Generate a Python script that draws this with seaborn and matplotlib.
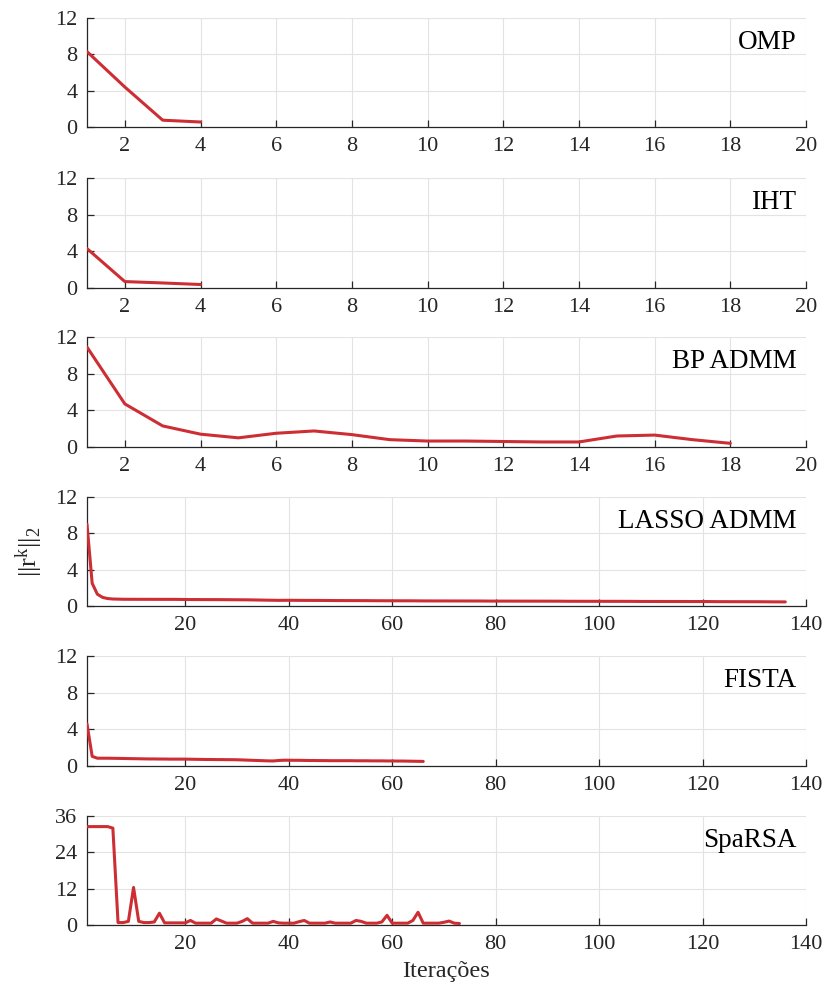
import numpy as np
import pandas as pd
import seaborn as sns
import matplotlib
matplotlib.use("Agg")
import matplotlib.pyplot as plt

# ---------------- data ----------------
omp = [8.3, 4.4, 0.75, 0.55]
iht = [4.3, 0.7, 0.55, 0.38]
bp_admm = [10.9, 4.7, 2.3, 1.4, 1.0, 1.5, 1.75, 1.35, 0.8, 0.65,
           0.65, 0.6, 0.55, 0.55, 1.2, 1.3, 0.8, 0.4]
lasso_admm = [9.0, 2.5, 1.3, 0.95, 0.82, 0.77, 0.75, 0.74, 0.74, 0.74,
              0.74, 0.75, 0.75, 0.75, 0.74, 0.74, 0.73, 0.73, 0.72, 0.72,
              0.71, 0.71, 0.71, 0.70, 0.70, 0.70, 0.70, 0.69, 0.69, 0.69,
              0.68, 0.68, 0.67, 0.66, 0.65, 0.64, 0.62, 0.62, 0.63, 0.63,
              0.62, 0.62, 0.62, 0.61, 0.61, 0.61, 0.61, 0.60, 0.60, 0.60,
              0.60, 0.59, 0.59, 0.59, 0.59, 0.58, 0.58, 0.58, 0.58, 0.57,
              0.57, 0.57, 0.57, 0.57, 0.56, 0.56, 0.56, 0.56, 0.56, 0.56,
              0.55, 0.55, 0.55, 0.55, 0.55, 0.55, 0.55, 0.54, 0.54, 0.54,
              0.54, 0.54, 0.54, 0.54, 0.54, 0.53, 0.53, 0.53, 0.53, 0.53,
              0.53, 0.53, 0.52, 0.52, 0.52, 0.52, 0.52, 0.52, 0.52, 0.51,
              0.51, 0.51, 0.51, 0.51, 0.51, 0.51, 0.50, 0.50, 0.50, 0.50,
              0.50, 0.50, 0.50, 0.50, 0.49, 0.49, 0.49, 0.49, 0.49, 0.49,
              0.49, 0.48, 0.48, 0.48, 0.48, 0.48, 0.47, 0.47, 0.47, 0.47,
              0.47, 0.46, 0.46, 0.46, 0.45, 0.45]
fista = [4.6, 1.05, 0.85, 0.85, 0.85, 0.84, 0.83, 0.82, 0.81, 0.80,
         0.79, 0.78, 0.77, 0.77, 0.76, 0.76, 0.75, 0.75, 0.75, 0.75,
         0.74, 0.73, 0.72, 0.71, 0.71, 0.70, 0.70, 0.69, 0.69, 0.68,
         0.66, 0.64, 0.62, 0.60, 0.58, 0.56, 0.55, 0.60, 0.63, 0.63,
         0.62, 0.62, 0.61, 0.60, 0.60, 0.59, 0.59, 0.58, 0.58, 0.58,
         0.58, 0.58, 0.57, 0.57, 0.57, 0.56, 0.56, 0.56, 0.55, 0.55,
         0.54, 0.54, 0.53, 0.52, 0.51, 0.50]
sparsa = [32.5, 32.5, 32.5, 32.5, 32.5, 32.0, 0.8, 0.8, 1.2, 12.4,
          1.2, 0.8, 0.8, 1.0, 3.9, 0.7, 0.7, 0.7, 0.7, 0.7,
          1.5, 0.6, 0.6, 0.6, 0.6, 2.0, 1.3, 0.6, 0.6, 0.6,
          1.2, 2.1, 0.6, 0.6, 0.6, 0.6, 1.2, 0.7, 0.6, 0.6,
          0.6, 1.1, 1.5, 0.6, 0.6, 0.6, 0.6, 1.0, 0.6, 0.6,
          0.6, 0.6, 1.5, 1.2, 0.6, 0.6, 0.6, 1.0, 3.2, 0.6,
          0.6, 0.6, 0.6, 1.5, 4.2, 0.6, 0.6, 0.6, 0.6, 0.9,
          1.3, 0.6, 0.5]

names = ["OMP", "IHT", "BP ADMM", "LASSO ADMM", "FISTA", "SpaRSA"]
series = [omp, iht, bp_admm, lasso_admm, fista, sparsa]
xmax = [20, 20, 20, 140, 140, 140]
xticks_small = [2, 4, 6, 8, 10, 12, 14, 16, 18, 20]
xticks_large = [20, 40, 60, 80, 100, 120, 140]
yticks_std = [0, 4, 8, 12]
yticks_sparsa = [0, 12, 24, 36]

# ---------------- style ----------------
sns.set_theme(style="whitegrid")
plt.rcParams["font.family"] = ["Liberation Serif", "DejaVu Serif"]
plt.rcParams["mathtext.fontset"] = "custom"
plt.rcParams["mathtext.rm"] = "Liberation Serif"
plt.rcParams["mathtext.it"] = "Liberation Serif:italic"

RED = "#CD2E33"
DARK = "#262626"
W, H = 825, 989
fig = plt.figure(figsize=(W / 100, H / 100), dpi=100)
fig.patch.set_facecolor("white")

tops = [18, 178, 337, 497, 656, 816]
bottoms = [127, 288, 447, 606, 766, 925]
left_px, right_px = 87, 806

axes = []
for i, (name, vals) in enumerate(zip(names, series)):
    t, b = tops[i], bottoms[i]
    ax = fig.add_axes([left_px / W, 1 - b / H, (right_px - left_px) / W, (b - t) / H])
    axes.append(ax)
    df = pd.DataFrame({"it": np.arange(1, len(vals) + 1), "r": vals})
    sns.lineplot(data=df, x="it", y="r", ax=ax, color=RED, linewidth=2.2, zorder=3)
    ax.set_xlim(1, xmax[i])
    if name == "SpaRSA":
        ax.set_ylim(0, 36)
        ax.set_yticks(yticks_sparsa)
    else:
        ax.set_ylim(0, 12)
        ax.set_yticks(yticks_std)
    ax.set_xticks(xticks_small if xmax[i] == 20 else xticks_large)
    ax.set_xlabel("")
    ax.set_ylabel("")
    ax.set_facecolor("white")
    ax.grid(True, color="#E3E3E3", linewidth=0.8)
    for s in ["top", "right"]:
        ax.spines[s].set_visible(False)
    for s in ["left", "bottom"]:
        ax.spines[s].set_visible(True)
        ax.spines[s].set_color(DARK)
        ax.spines[s].set_linewidth(0.9)
    ax.tick_params(direction="in", length=5, width=0.9, color=DARK,
                   labelsize=16, labelcolor=DARK, pad=7,
                   left=True, bottom=True)
    ax.text(0.987, 0.89, name, transform=ax.transAxes, ha="right", va="top",
            fontsize=19.5, color="black", zorder=5)

axes[3].set_ylabel(r"$||\mathrm{r}^{\mathrm{k}}||_2$", fontsize=19, color=DARK)
axes[3].yaxis.set_label_coords(-0.058, 0.5)
axes[5].set_xlabel("Iterações", fontsize=17.5, color=DARK)
axes[5].xaxis.set_label_coords(0.5, -0.33)

fig.savefig("out.png", dpi=100, facecolor="white")
